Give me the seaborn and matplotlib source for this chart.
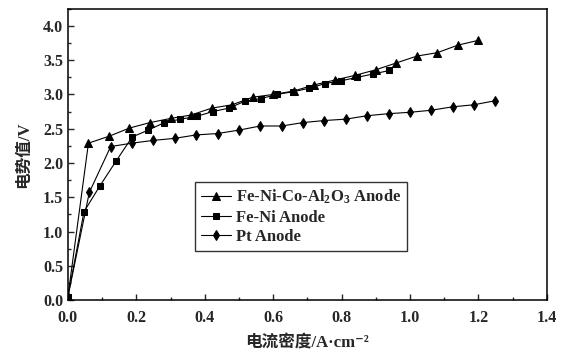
import numpy as np
import pandas as pd
import seaborn as sns
import matplotlib.pyplot as plt
from matplotlib.ticker import MultipleLocator

# Fe-Ni-Co-Al2O3 anode
x_feni_co = [0.0, 0.06, 0.12, 0.18, 0.24, 0.30, 0.36, 0.42, 0.48, 0.54, 0.60,
             0.66, 0.72, 0.78, 0.84, 0.90, 0.96, 1.02, 1.08, 1.14, 1.20]
y_feni_co = [0.05, 2.29, 2.39, 2.51, 2.59, 2.65, 2.70, 2.80, 2.85, 2.96, 3.00,
             3.05, 3.14, 3.21, 3.28, 3.36, 3.46, 3.56, 3.61, 3.72, 3.79]

# Fe-Ni anode
x_feni = [0.0, 0.047, 0.094, 0.141, 0.188, 0.235, 0.282, 0.329, 0.376, 0.423, 0.47,
          0.517, 0.564, 0.611, 0.658, 0.705, 0.752, 0.799, 0.846, 0.893, 0.94]
y_feni = [0.05, 1.29, 1.67, 2.03, 2.38, 2.48, 2.59, 2.64, 2.68, 2.75, 2.80,
          2.90, 2.94, 3.00, 3.04, 3.09, 3.16, 3.20, 3.25, 3.30, 3.35]

# Pt anode
x_pt = [0.0, 0.0625, 0.125, 0.1875, 0.25, 0.3125, 0.375, 0.4375, 0.5, 0.5625, 0.625,
        0.6875, 0.75, 0.8125, 0.875, 0.9375, 1.0, 1.0625, 1.125, 1.1875, 1.25]
y_pt = [0.05, 1.57, 2.24, 2.29, 2.33, 2.36, 2.41, 2.43, 2.48, 2.54, 2.54,
        2.59, 2.62, 2.64, 2.69, 2.72, 2.74, 2.77, 2.82, 2.85, 2.91]

labels = ['Fe-Ni-Co-Al$_2$O$_3$ Anode', 'Fe-Ni Anode', 'Pt Anode']

sns.set_style('ticks')
plt.rcParams['font.family'] = ['Liberation Serif', 'Noto Sans CJK SC', 'DejaVu Sans']
plt.rcParams['font.weight'] = 'bold'
plt.rcParams['mathtext.fontset'] = 'custom'
plt.rcParams['mathtext.rm'] = 'Liberation Serif:bold'
plt.rcParams['mathtext.it'] = 'Liberation Serif:bold'
plt.rcParams['mathtext.bf'] = 'Liberation Serif:bold'

fig = plt.figure(figsize=(5.66, 3.53), dpi=100)
ax = fig.add_axes([0.120, 0.150, 0.846, 0.825])

sns.lineplot(x=x_feni_co, y=y_feni_co, ax=ax, color='black', lw=0.8,
             marker='^', markersize=5.5, markeredgecolor='black', label=labels[0])
sns.lineplot(x=x_feni, y=y_feni, ax=ax, color='black', lw=0.8,
             marker='s', markersize=4, markeredgecolor='black', label=labels[1])
sns.lineplot(x=x_pt, y=y_pt, ax=ax, color='black', lw=0.8,
             marker='d', markersize=5.5, markeredgecolor='black', label=labels[2])

ax.set_xlim(0, 1.4)
ax.set_ylim(0, 4.25)
ax.xaxis.set_major_locator(MultipleLocator(0.2))
ax.xaxis.set_minor_locator(MultipleLocator(0.1))
ax.yaxis.set_major_locator(MultipleLocator(0.5))
ax.yaxis.set_minor_locator(MultipleLocator(0.25))
ax.tick_params(which='both', direction='in', width=1, labelsize=11.5)
ax.tick_params(axis='x', which='major', pad=7)
ax.tick_params(which='major', length=4)
ax.tick_params(which='minor', length=2.5)
for s in ax.spines.values():
    s.set_linewidth(1.1)
    s.set_color('black')

ax.set_xlabel('电流密度/A·cm⁻²', fontsize=12, fontweight='bold', labelpad=6,
              family=['Liberation Serif', 'Noto Sans CJK SC', 'DejaVu Sans'])
ax.set_ylabel('电势值/V', fontsize=12, fontweight='bold', labelpad=8,
              family=['Liberation Serif', 'Noto Sans CJK SC'])

leg = ax.legend(loc='upper left', bbox_to_anchor=(0.265, 0.405), fontsize=12,
                frameon=True, fancybox=False, edgecolor='black', handlelength=1.8,
                handletextpad=0.3, labelspacing=0.2, borderpad=0.35,
                borderaxespad=0)
leg.get_frame().set_linewidth(1.0)

fig.savefig('out.png', dpi=100)
